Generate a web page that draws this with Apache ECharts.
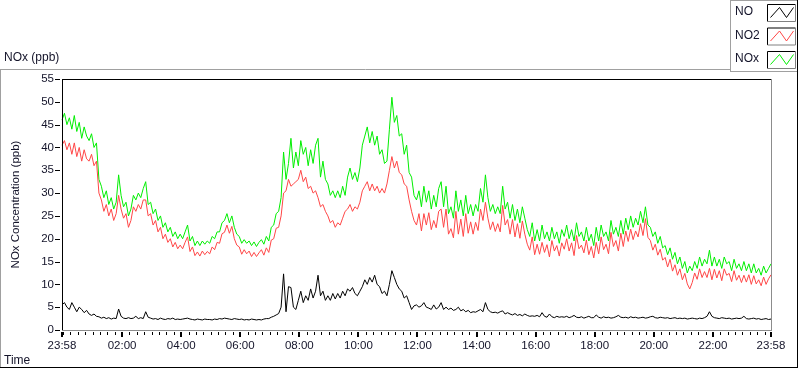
<!DOCTYPE html>
<html>
<head>
<meta charset="utf-8">
<script src="https://cdn.jsdelivr.net/npm/echarts@6/dist/echarts.min.js"></script>
<style>
html,body{margin:0;padding:0;background:#fff;}
#chart{width:800px;height:369px;}
</style>
</head>
<body>
<div id="chart"></div>
<script>
// ---- data (minutes from midnight; first sample at 23:58 of previous day) ----
var startMinute = -2;
var stepMinutes = 5;

var tickMinutes = [-2, 120, 240, 360, 480, 600, 720, 840, 960, 1080, 1200, 1320, 1438];
var tickLabels = ['23:58', '02:00', '04:00', '06:00', '08:00', '10:00', '12:00', '14:00', '16:00', '18:00', '20:00', '22:00', '23:58'];
var yTickValues = [0, 5, 10, 15, 20, 25, 30, 35, 40, 45, 50, 55];

var seriesNames = ['NO', 'NO2', 'NOx'];

var noxValues = [
  46, 47.5, 45, 46.5, 44, 47, 43.5, 45.5, 42, 44.5, 42.5, 41.5,
  43, 40, 41, 33, 31.5, 29, 30.5, 27.5, 29, 26.5, 28, 34,
  29.5, 27, 28, 25, 26.5, 29.5, 28.5, 30, 29, 31, 32.5, 27.5,
  28, 25.5, 26.5, 24, 25, 22.5, 23.5, 21.5, 22.5, 20.5, 21.5, 20,
  21, 20, 21.5, 23, 19.5, 20.5, 18.5, 19.5, 18.5, 19.5, 18.8, 19.5,
  19, 20.5, 20, 21.5, 21.5, 23.5, 24, 25.5, 23.5, 25, 22.5, 21,
  20.5, 19, 19.8, 19, 19.5, 18.5, 19.3, 18.3, 19.2, 19.8, 18.8, 20.5,
  19.5, 22.5, 23, 25.5, 26, 29, 39, 33, 36.5, 42, 35.5, 39,
  36, 41.5, 38.5, 40, 36, 39.5, 36.5, 40.5, 42, 33.5, 37, 33,
  32, 29.5, 30.5, 29, 30.5, 29, 31.5, 29.5, 33.5, 35.5, 33, 34.5,
  32.5, 35.5, 40.5, 42.5, 44.5, 41, 43.5, 40.5, 42.5, 38.5, 39.5, 36.5,
  37, 44, 51, 45.5, 47, 42.5, 43, 38.5, 40.5, 34.5, 33.5, 29.5,
  28.5, 30.5, 27, 31.5, 28, 30.5, 26.5, 29.5, 27, 31, 32.5, 27,
  31.5, 25.5, 27, 24.5, 30.5, 26, 28.5, 25, 29.5, 25.5, 27.5, 25,
  27.5, 26, 31, 28, 34, 29, 26, 27.5, 25.5, 27, 25.5, 31.5,
  26.5, 28, 24.5, 27.5, 24, 26.5, 23.5, 27, 24.5, 22, 20.5, 23.5,
  19.5, 22, 19.5, 23, 20, 21.5, 19.5, 22.5, 20, 21.5, 19, 22,
  20.5, 23, 20, 22, 19.5, 23.5, 20.5, 21.5, 19.5, 22.5, 19.5, 21,
  18.5, 22.5, 19.5, 23, 20.5, 21.5, 19.5, 24, 21, 22.5, 20.5, 24,
  21, 24.5, 22, 25, 22.5, 24.5, 23, 26, 23.5, 27, 23, 22.5,
  20.5, 21.5, 19, 20.5, 18, 18.5, 16.5, 18, 15.5, 17, 14.5, 16,
  13.5, 15, 12.5, 14, 13, 15, 13.5, 16, 14, 15.5, 14.5, 17.5,
  14, 16, 14, 15.5, 13.5, 16, 14.5, 15, 13, 15.5, 13.5, 14.5,
  13, 15, 13, 14.5, 12.5, 14.5, 12.5, 13.5, 12, 14, 12.5, 13.5, 14.5
];

var no2Values = [
  40.5, 41.5, 39.5, 41, 38.5, 41, 38, 40, 37, 39.5, 37.5, 37,
  38.5, 36, 37, 30, 28.5, 26, 27.5, 25, 26.5, 24, 25.5, 29.5,
  26.5, 24.5, 25.5, 22.5, 24, 27, 26, 27.5, 26.5, 28.5, 28.5, 25,
  25.5, 23, 24, 21.5, 22.5, 20, 21, 19.2, 20, 18.2, 19.2, 17.8,
  18.6, 17.8, 19.2, 20.4, 17.2, 18.2, 16.3, 17.1, 16.2, 17.3, 16.5, 17.2,
  16.7, 18.2, 17.6, 19.2, 19, 21.1, 21.4, 23, 21.2, 22.7, 20, 18.6,
  18.2, 16.6, 17.6, 16.7, 17.3, 16.1, 17, 16.1, 16.9, 17.6, 16.4, 18,
  17, 19.7, 20, 22.3, 22.5, 25, 30, 30.5, 33, 31.5, 32, 32.5,
  33, 35, 32.5, 33.5, 31, 31.5, 30, 30.5, 29, 27, 27.5, 26,
  25, 23.5, 24, 22.5, 23.5, 23, 24.5, 26, 26.5, 27.5, 26, 27,
  26.5, 28, 30.5, 31.5, 32.5, 30.5, 32, 30.5, 31.5, 30, 31, 30,
  32, 35, 38, 35.5, 37, 34.5, 34, 32, 31.5, 28.5, 26, 24,
  23, 25.5, 21.7, 25.5, 23, 25.7, 22, 24, 22.4, 26, 26.5, 22.5,
  26.5, 21, 22.2, 20.2, 26, 21, 24.3, 20.5, 25.5, 21.2, 23.7, 21,
  23.6, 21.8, 26.5, 24, 28, 24.5, 22, 23.7, 21.6, 23.3, 21.5, 27.3,
  23, 24.2, 21, 24.2, 20.4, 23.3, 20.1, 23.9, 21, 18.8, 17.5, 20.4,
  16.5, 18.8, 16.6, 19.2, 17, 18.7, 16, 19.6, 17.3, 18.5, 16.2, 19.1,
  17.7, 20, 17.3, 19.1, 16.3, 20.7, 17.8, 18.6, 16.9, 19.7, 16.5, 18.3,
  15.8, 19.2, 16.7, 20.4, 17.6, 18.8, 16.7, 21.4, 18.3, 19.6, 17.3, 21.2,
  18.3, 21.7, 19.4, 22.1, 19.8, 21.7, 20.4, 23.3, 20.7, 24.4, 20.3, 19.6,
  17.5, 18.8, 16.4, 17.7, 15.3, 15.9, 13.8, 15.5, 12.9, 14.3, 12, 13.4,
  11, 12.4, 10.1, 9, 10.4, 12.5, 11.1, 13.4, 11.5, 12.8, 11.5, 13.5,
  11, 13.3, 11.4, 13, 10.8, 13.4, 12, 12.4, 10.6, 13, 10.9, 12,
  10.4, 12, 10.5, 12.1, 10, 11.9, 10.1, 11, 9.7, 11.6, 10, 11.2, 12.1
];

var noValues = [
  5.5, 6, 5, 4.5, 6, 5, 4, 5, 4.5, 3.8, 4.3, 3.5,
  3.2, 3.5, 3, 2.9, 2.6, 2.8, 2.5, 2.7, 2.4, 2.6, 2.5, 4.6,
  3, 2.6, 2.5, 2.7, 2.5, 2.6, 3, 2.5, 2.7, 2.5, 4, 2.8,
  2.6, 2.4, 2.5, 2.3, 2.6, 2.4, 2.3, 2.5, 2.4, 2.6, 2.3, 2.4,
  2.3, 2.4, 2.5, 2.6, 2.4, 2.3, 2.2, 2.4, 2.3, 2.2, 2.4, 2.3,
  2.3, 2.2, 2.4, 2.3, 2.5, 2.4, 2.6, 2.5, 2.4, 2.3, 2.5, 2.4,
  2.3, 2.4, 2.2, 2.3, 2.2, 2.4, 2.3, 2.2, 2.3, 2.2, 2.4, 2.5,
  2.5, 2.8, 3, 3.3, 3.6, 5, 12.3, 4, 9.5, 9.3, 5, 4.5,
  6.5, 8.5, 6, 7.5, 6.5, 9, 7, 8.5, 12, 7.5, 8.5, 6.5,
  7.5, 6.5, 8, 6.8, 8, 7, 8.5, 7.5, 9, 8.5, 9.3, 8,
  7.5, 8.5, 9.5, 11, 10, 11.5, 10.5, 12, 10, 9.5, 8, 8.5,
  7.5, 10, 13, 11.5, 10, 9, 8.5, 7, 7.5, 6, 4.5, 5.3,
  5.5, 5, 5.3, 6, 5, 4.8, 4.5, 5.5, 4.6, 5, 6, 4.5,
  5, 4.5, 4.8, 4.3, 4.5, 5, 4.2, 4.5, 4, 4.3, 3.8, 4,
  3.9, 4.2, 4.5, 4, 6, 4.5, 4, 3.8, 3.9, 3.7, 4, 4.2,
  3.5, 3.8, 3.5, 3.3, 3.6, 3.2, 3.4, 3.1, 3.5, 3.2, 3, 3.1,
  3, 3.2, 2.9, 3.8, 3, 2.8, 3.5, 2.9, 2.7, 3, 2.8, 2.9,
  2.8, 3, 2.7, 2.9, 3.2, 2.8, 2.7, 2.9, 2.6, 2.8, 3, 2.7,
  2.7, 3.3, 2.8, 2.6, 2.9, 2.7, 2.8, 2.6, 2.7, 2.9, 3.2, 2.8,
  2.7, 2.8, 2.6, 2.9, 2.7, 2.8, 2.6, 2.7, 2.8, 2.6, 2.7, 2.9,
  3, 2.7, 2.6, 2.8, 2.7, 2.6, 2.7, 2.5, 2.6, 2.7, 2.5, 2.6,
  2.5, 2.6, 2.4, 2.5, 2.6, 2.5, 2.4, 2.6, 2.5, 2.7, 3, 4,
  3, 2.7, 2.6, 2.5, 2.7, 2.6, 2.5, 2.6, 2.4, 2.5, 2.6, 2.5,
  2.6, 3, 2.5, 2.4, 2.5, 2.6, 2.4, 2.5, 2.3, 2.4, 2.5, 2.3, 2.4
];

// ---- presentation ----
var FONT = 'Liberation Sans';
var TXT = '#14142a';
var colors = {NO: '#000000', NO2: '#ff4646', NOx: '#00ee00'};

function toPoints(arr) {
  return arr.map(function (v, i) { return [startMinute + i * stepMinutes, v]; });
}
function labelFor(v) {
  var idx = tickMinutes.indexOf(v);
  return idx >= 0 ? tickLabels[idx] : '';
}
var minorTicks = [];
for (var m = 0; m < 1440; m += 15) minorTicks.push(m);

var X0 = 62, X1 = 771, Y0 = 79, Y1 = 330;
var HIDDEN = 'rgba(0,0,0,0)';

// tick marks drawn through the axes' own scales (api.coord)
function tickSeries(kind, points) {
  return {
    type: 'custom', coordinateSystem: 'cartesian2d', silent: true, clip: false, z: 20,
    data: points,
    renderItem: function (params, api) {
      var p = api.coord([api.value(0), api.value(1)]);
      var shape, w = 1;
      if (kind === 'y') {
        var yy = Math.round(p[1]) + 0.5;
        shape = {x1: p[0] - 7, y1: yy, x2: p[0] - 2, y2: yy};
      } else if (kind === 'major') {
        var xm = Math.round(p[0]);
        shape = {x1: xm, y1: p[1] + 2, x2: xm, y2: p[1] + 7};
        w = 2;
      } else {
        var xn = Math.round(p[0]) + 0.5;
        shape = {x1: xn, y1: p[1] + 2, x2: xn, y2: p[1] + 5};
      }
      return {type: 'line', shape: shape, style: {stroke: '#000', lineWidth: w}};
    }
  };
}

function legendItem(name, yc) {
  var bx = 767.5, by = yc - 8.5, bw = 28, bh = 17;
  return [
    {type: 'text', left: 735, top: yc - 7, style: {text: name, font: '12px ' + FONT, fill: TXT}},
    {type: 'polyline', shape: {points: [[bx, by + bh], [bx, by], [bx + bw, by]]}, style: {stroke: '#000', lineWidth: 1, fill: null}},
    {type: 'polyline', shape: {points: [[bx + bw, by], [bx + bw, by + bh], [bx, by + bh]]}, style: {stroke: '#808080', lineWidth: 1, fill: null}},
    {type: 'polyline', shape: {points: [[bx + 3, by + 13], [bx + 12, by + 3], [bx + 19, by + 13], [bx + 26, by + 3]]},
      style: {stroke: colors[name], lineWidth: 1, fill: null}}
  ];
}

var graphics = [
  // outer panel frame
  {type: 'line', shape: {x1: 0, y1: 69.5, x2: 731, y2: 69.5}, style: {stroke: '#a0a0a0', lineWidth: 1}},
  {type: 'line', shape: {x1: 0.5, y1: 69.5, x2: 0.5, y2: 368}, style: {stroke: '#a0a0a0', lineWidth: 1}},
  {type: 'line', shape: {x1: 0, y1: 367.5, x2: 798, y2: 367.5}, style: {stroke: '#000', lineWidth: 1}},
  {type: 'line', shape: {x1: 797.5, y1: 0, x2: 797.5, y2: 368}, style: {stroke: '#000', lineWidth: 1}},
  // legend box
  {type: 'line', shape: {x1: 730.5, y1: 0, x2: 730.5, y2: 72}, style: {stroke: '#a0a0a0', lineWidth: 1}},
  {type: 'line', shape: {x1: 730.5, y1: 71.5, x2: 797, y2: 71.5}, style: {stroke: '#a0a0a0', lineWidth: 1}},
  {type: 'line', shape: {x1: 730.5, y1: 0.5, x2: 797, y2: 0.5}, style: {stroke: '#a0a0a0', lineWidth: 1}},
  // plot frame
  {type: 'line', shape: {x1: X0, y1: Y0 + 0.5, x2: X1 + 1, y2: Y0 + 0.5}, style: {stroke: '#000', lineWidth: 1}, z: 10},
  {type: 'line', shape: {x1: X0 + 0.5, y1: Y0, x2: X0 + 0.5, y2: Y1 + 1}, style: {stroke: '#000', lineWidth: 1}, z: 10},
  {type: 'line', shape: {x1: X1 + 0.5, y1: Y0, x2: X1 + 0.5, y2: Y1 + 1}, style: {stroke: '#8c8c8c', lineWidth: 1}, z: 10},
  {type: 'line', shape: {x1: X0, y1: Y1 + 0.5, x2: X1 + 1, y2: Y1 + 0.5}, style: {stroke: '#8c8c8c', lineWidth: 1}, z: 10},
  // titles
  {type: 'text', left: 4, top: 52, style: {text: 'NOx (ppb)', font: '12px ' + FONT, fill: TXT}},
  {type: 'text', left: 4, top: 355, style: {text: 'Time', font: '12px ' + FONT, fill: TXT}}
];
seriesNames.forEach(function (n, k) { graphics = graphics.concat(legendItem(n, [13, 36.5, 60][k])); });

var chart = echarts.init(document.getElementById('chart'), null, {renderer: 'canvas'});
chart.setOption({
  animation: false,
  grid: {left: X0, top: Y0, width: X1 - X0, height: Y1 - Y0},
  xAxis: {
    type: 'value', min: -2, max: 1438, offset: 2,
    axisLine: {show: true, lineStyle: {color: HIDDEN}},
    splitLine: {show: false},
    axisTick: {show: false},
    axisLabel: {customValues: tickMinutes, formatter: labelFor, margin: 8, showMinLabel: true, showMaxLabel: true,
      color: TXT, fontFamily: FONT, fontSize: 11.5}
  },
  yAxis: {
    type: 'value', min: 0, max: 55, interval: 5, offset: 2,
    name: 'NOx Concentration (ppb)', nameLocation: 'middle', nameGap: 38, nameRotate: 90,
    nameTextStyle: {color: TXT, fontFamily: FONT, fontSize: 11.5},
    axisLine: {show: false},
    splitLine: {show: false},
    axisTick: {show: false},
    axisLabel: {margin: 6, showMinLabel: true, showMaxLabel: true, color: TXT, fontFamily: FONT, fontSize: 11.5}
  },
  series: [
    {name: 'NOx', type: 'line', data: toPoints(noxValues), showSymbol: false,
      lineStyle: {color: colors.NOx, width: 1}, itemStyle: {color: colors.NOx}, z: 2},
    {name: 'NO2', type: 'line', data: toPoints(no2Values), showSymbol: false,
      lineStyle: {color: colors.NO2, width: 1}, itemStyle: {color: colors.NO2}, z: 3},
    {name: 'NO', type: 'line', data: toPoints(noValues), showSymbol: false,
      lineStyle: {color: colors.NO, width: 1}, itemStyle: {color: colors.NO}, z: 4},
    tickSeries('y', yTickValues.map(function (v) { return [-2, v]; })),
    tickSeries('minor', minorTicks.map(function (v) { return [v, 0]; })),
    tickSeries('major', tickMinutes.map(function (v) { return [v, 0]; }))
  ],
  graphic: graphics
});
</script>
</body>
</html>
